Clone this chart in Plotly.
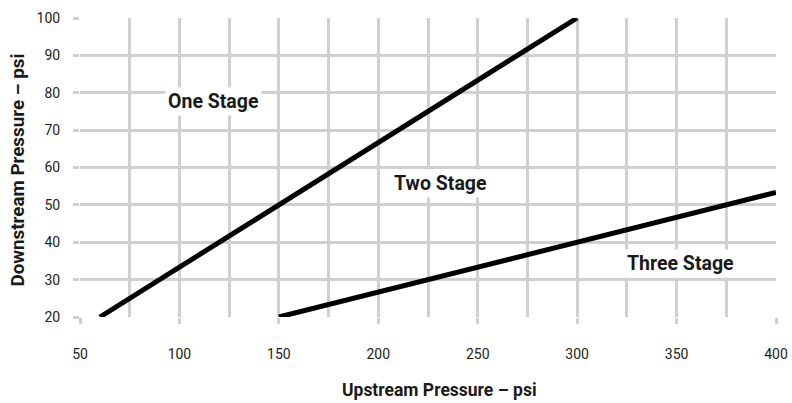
import plotly.graph_objects as go

# Boundary lines between regions
one_two_x = [60, 300]
one_two_y = [20, 100]
two_three_x = [150, 400]
two_three_y = [20, 53.33]

region_labels = ["One Stage", "Two Stage", "Three Stage"]
label_x = [117.3, 231.5, 352]
label_y = [77.6, 55.7, 34.4]

x_ticks = [50, 100, 150, 200, 250, 300, 350, 400]
y_ticks = [20, 30, 40, 50, 60, 70, 80, 90, 100]

x_title = "Upstream Pressure – psi"
y_title = "Downstream Pressure – psi"

grid = "#d0d0d0"
fam = "Roboto, Arial, sans-serif"
tickfont = dict(family=fam, size=14, color="#222")
labelfont = dict(family=fam, size=19.5, color="#1a1a1a")
xtitlefont = dict(family=fam, size=17.5, color="#1a1a1a")
ytitlefont = dict(family=fam, size=18.8, color="#1a1a1a")

fig = go.Figure()
for xs, ys in [(one_two_x, one_two_y), (two_three_x, two_three_y)]:
    fig.add_trace(go.Scatter(x=xs, y=ys, mode="lines",
                             line=dict(color="black", width=5),
                             cliponaxis=False, showlegend=False, hoverinfo="skip"))

for t, x, y in zip(region_labels, label_x, label_y):
    fig.add_annotation(x=x, y=y, text="<b>%s</b>" % t, showarrow=False,
                       bgcolor="white", font=labelfont, borderpad=2)

fig.add_annotation(xref="paper", yref="paper", x=0.516, y=-0.244,
                   text="<b>%s</b>" % x_title, showarrow=False, font=xtitlefont,
                   xanchor="center", yanchor="middle")
fig.add_annotation(xref="paper", yref="paper", x=-0.089, y=0.49,
                   text="<b>%s</b>" % y_title, showarrow=False, font=ytitlefont,
                   textangle=-90, xanchor="center", yanchor="middle")

fig.update_layout(
    width=792, height=403,
    margin=dict(l=79.5, r=16, t=18, b=86),
    plot_bgcolor="white", paper_bgcolor="white",
    xaxis=dict(range=[50, 400], tickvals=x_ticks, showgrid=True, gridcolor=grid, gridwidth=3,
               minor=dict(dtick=25, tick0=50, showgrid=True, gridcolor=grid, gridwidth=3),
               ticks="outside", ticklen=6, tickwidth=3, tickcolor=grid,
               tickfont=tickfont, ticklabelstandoff=18, zeroline=False, showline=False,
               automargin=False),
    yaxis=dict(range=[20, 100], tickvals=y_ticks, showgrid=True, gridcolor=grid, gridwidth=3,
               ticks="outside", ticklen=6, tickwidth=3, tickcolor=grid,
               tickfont=tickfont, ticklabelstandoff=10, zeroline=False, showline=False,
               automargin=False),
)

fig.write_html("out.html", config={"displayModeBar": False},
               post_script="document.body.style.margin='0';")
